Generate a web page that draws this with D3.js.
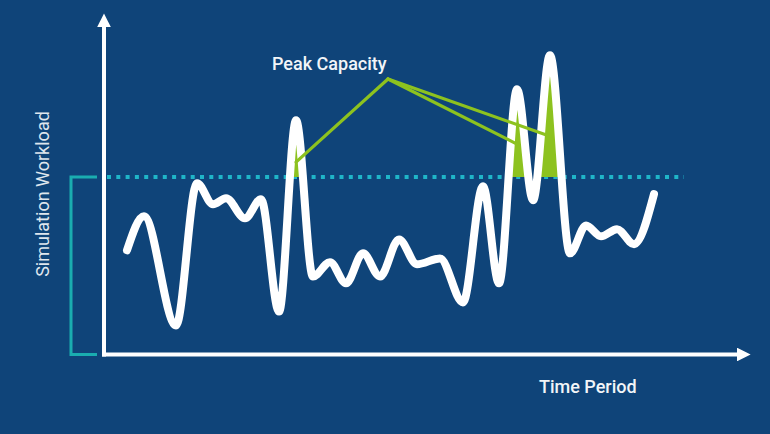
<!DOCTYPE html>
<html>
<head>
<meta charset="utf-8">
<script src="https://cdn.jsdelivr.net/npm/d3@7/dist/d3.min.js"></script>
<style>
  html, body { margin: 0; padding: 0; background: #0f4479; }
  svg { display: block; }
  text { font-family: Roboto, "Open Sans", sans-serif; }
</style>
</head>
<body>
<svg id="chart" width="770" height="434"></svg>
<script>
// ---- data ----
const timePoints = [3.65, 6.35, 11.43, 14.76, 17.30, 19.37, 22.38, 24.92, 27.78, 30.48,
                    33.17, 35.87, 38.41, 41.11, 43.81, 46.83, 49.68, 53.33, 56.98, 60.16,
                    62.70, 65.56, 68.10, 70.79, 73.97, 76.51, 78.89, 81.43, 84.13, 87.30];
const workload   = [30.6, 40.6, 8.5, 50.3, 44.1, 45.9, 40.0, 45.6, 12.6, 68.8,
                    22.9, 27.1, 20.9, 29.7, 22.9, 33.8, 26.5, 28.2, 15.3, 49.4,
                    20.9, 77.9, 45.3, 87.9, 29.7, 37.9, 34.7, 36.8, 32.4, 47.1];
const capacity = 52.1;
const annotationLabel = "Peak Capacity";
const annotationTargets = [ {t: 30.48, v: 56.5}, {t: 65.56, v: 61.8}, {t: 70.79, v: 64.1} ];
const yLabel = "Simulation Workload";
const xLabel = "Time Period";

// ---- layout ----
const svg = d3.select("#chart");
const W = 770, H = 434;
const x0 = 104, yBase = 354.5;
const x = d3.scaleLinear().domain([0, 100]).range([x0, 734]);
const y = d3.scaleLinear().domain([0, 100]).range([yBase, 14]);

svg.append("rect").attr("width", W).attr("height", H).attr("fill", "#0f4479");

const defs = svg.append("defs");
defs.append("marker").attr("id", "arrow")
  .attr("viewBox", "0 0 10 10").attr("refX", 0).attr("refY", 5)
  .attr("markerWidth", 3.4).attr("markerHeight", 3.4).attr("markerUnits", "strokeWidth")
  .attr("orient", "auto")
  .append("path").attr("d", "M0,0 L10,5 L0,10 Z").attr("fill", "#ffffff");

// axes (no ticks)
const yAxisScale = d3.scaleLinear().domain([0, 1]).range([yBase + 2, 27]);
const xAxisScale = d3.scaleLinear().domain([0, 1]).range([x0 - 2, 737]);
const gy = svg.append("g").attr("transform", `translate(${x0},0)`)
  .call(d3.axisLeft(yAxisScale).tickValues([]).tickSizeOuter(0));
const gx = svg.append("g").attr("transform", `translate(0,${yBase})`)
  .call(d3.axisBottom(xAxisScale).tickValues([]).tickSizeOuter(0));
[gy, gx].forEach(g => g.select(".domain")
  .attr("stroke", "#ffffff").attr("stroke-width", 4));
gy.select(".domain").attr("d", `M0,${yAxisScale(0)}V${yAxisScale(1)}`).attr("marker-end", "url(#arrow)");
gx.select(".domain").attr("d", `M${xAxisScale(0)},0H${xAxisScale(1)}`).attr("marker-end", "url(#arrow)");

// bracket
svg.append("path")
  .attr("d", `M97,${y(capacity)}H71V${y(0)}H97`)
  .attr("fill", "none").attr("stroke", "#1aadb0").attr("stroke-width", 3);

// capacity dotted line
svg.append("line")
  .attr("x1", x0 + 3).attr("x2", 684)
  .attr("y1", y(capacity)).attr("y2", y(capacity))
  .attr("stroke", "#1fb5c8").attr("stroke-width", 4).attr("stroke-dasharray", "4 5.3");

const data = timePoints.map((t, i) => ({t, v: workload[i]}));

// green fill above capacity
defs.append("clipPath").attr("id", "above")
  .append("rect").attr("x", 0).attr("y", 0).attr("width", W).attr("height", y(capacity));
const area = d3.area().curve(d3.curveMonotoneX)
  .x(d => x(d.t)).y0(y(capacity)).y1(d => y(d.v));
svg.append("path").datum(data)
  .attr("d", area).attr("fill", "#8dc21f").attr("clip-path", "url(#above)");

// curve
const line = d3.line().curve(d3.curveMonotoneX).x(d => x(d.t)).y(d => y(d.v));
svg.append("path").datum(data)
  .attr("d", line).attr("fill", "none").attr("stroke", "#ffffff")
  .attr("stroke-width", 8).attr("stroke-linecap", "round").attr("stroke-linejoin", "round");

// annotation
const ax = 388, ay = 79;
svg.selectAll(".ann").data(annotationTargets).join("line")
  .attr("x1", ax).attr("y1", ay)
  .attr("x2", d => x(d.t)).attr("y2", d => y(d.v))
  .attr("stroke", "#8dc21f").attr("stroke-width", 3.2).attr("stroke-linecap", "round");
svg.append("text").attr("x", 272).attr("y", 70)
  .attr("fill", "#f2f5f8").attr("font-size", 18).attr("font-weight", 500).text(annotationLabel);

// axis labels
svg.append("text").attr("transform", "translate(49,194) rotate(-90)")
  .attr("text-anchor", "middle").attr("fill", "#dfe6ee").attr("font-size", 18).text(yLabel);
svg.append("text").attr("x", 539).attr("y", 393)
  .attr("fill", "#f2f5f8").attr("font-size", 18).attr("font-weight", 500).text(xLabel);
</script>
</body>
</html>
